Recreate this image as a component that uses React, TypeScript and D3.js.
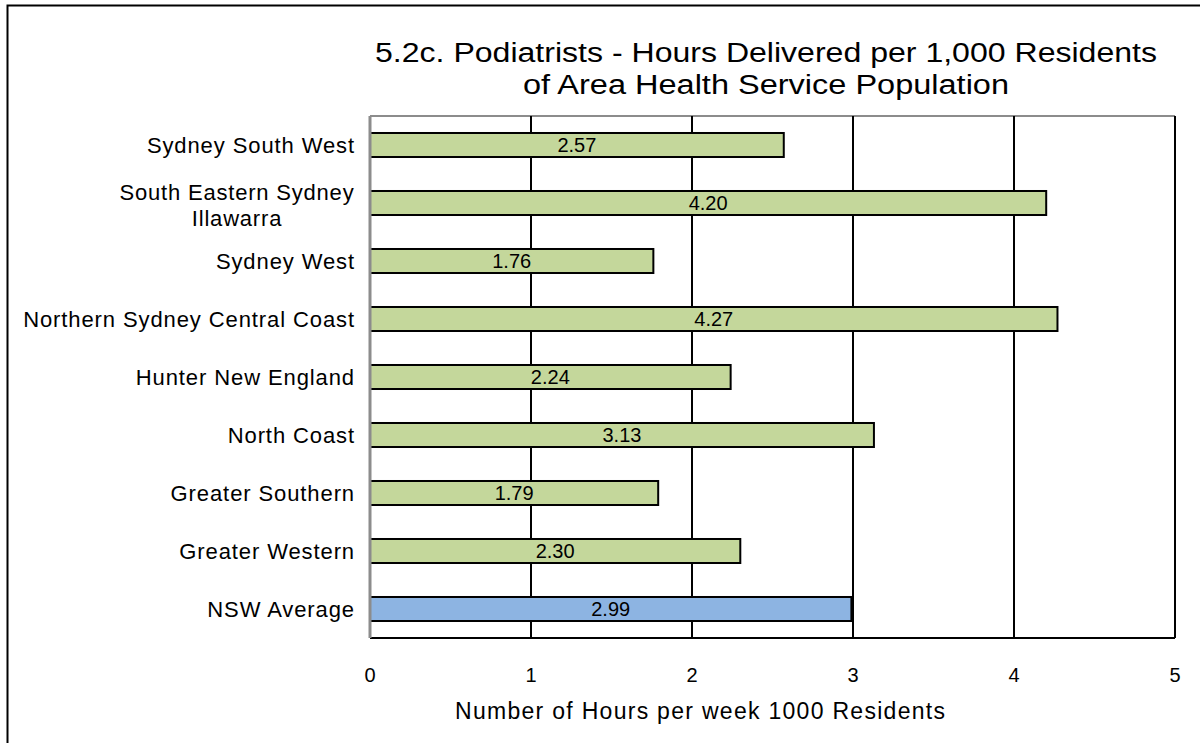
import React from "react";
import * as d3 from "d3";

const categories: string[] = [
  "Sydney South West",
  "South Eastern Sydney Illawarra",
  "Sydney West",
  "Northern Sydney Central Coast",
  "Hunter New England",
  "North Coast",
  "Greater Southern",
  "Greater Western",
  "NSW Average",
];
const categoryLines: string[][] = [
  ["Sydney South West"],
  ["South Eastern Sydney", "Illawarra"],
  ["Sydney West"],
  ["Northern Sydney Central Coast"],
  ["Hunter New England"],
  ["North Coast"],
  ["Greater Southern"],
  ["Greater Western"],
  ["NSW Average"],
];
const values: number[] = [2.57, 4.2, 1.76, 4.27, 2.24, 3.13, 1.79, 2.3, 2.99];
const xTicks: number[] = [0, 1, 2, 3, 4, 5];
const titleLines: string[] = [
  "5.2c. Podiatrists - Hours Delivered per 1,000 Residents",
  "of  Area Health Service Population",
];
const xAxisTitle = "Number of Hours per week 1000 Residents";

const W = 1200;
const H = 743;
const FONT = "'Liberation Sans', Arial, sans-serif";

export default function App() {
  const left = 370;
  const right = 1175;
  const top = 116;
  const bottom = 638;

  const x = d3.scaleLinear().domain([0, 5]).range([left, right]);
  const y = d3
    .scaleBand<string>()
    .domain(categories)
    .range([top, bottom])
    .paddingInner(0.586)
    .paddingOuter(0.293);

  return (
    <svg
      width={W}
      height={H}
      style={{ position: "absolute", left: 0, top: 0, background: "#fff" }}
      fontFamily={FONT}
    >
      <rect x={0} y={0} width={W} height={H} fill="#fff" />
      {/* outer frame */}
      <rect x={7.5} y={5.5} width={1230} height={800} fill="none" stroke="#000" strokeWidth={2} />

      {/* title */}
      {titleLines.map((t, i) => (
        <text
          key={i}
          x={766}
          y={62 + i * 32}
          textAnchor="middle"
          fontSize={27}
          fill="#000"
          textLength={i === 0 ? 782 : 486}
          lengthAdjust="spacingAndGlyphs"
        >
          {t}
        </text>
      ))}

      {/* plot top border */}
      <line x1={left} x2={right} y1={top} y2={top} stroke="#8c8c8c" strokeWidth={2} />

      {/* vertical gridlines */}
      {xTicks
        .filter((t) => t > 0)
        .map((t) => (
          <line key={t} x1={x(t)} x2={x(t)} y1={top} y2={bottom} stroke="#000" strokeWidth={2} />
        ))}

      {/* bars */}
      {categories.map((c, i) => (
        <rect
          key={c}
          x={x(0)}
          y={y(c)!}
          width={x(values[i]) - x(0)}
          height={y.bandwidth()}
          fill={c === "NSW Average" ? "#8DB4E2" : "#C4D79B"}
          stroke="#000"
          strokeWidth={2}
        />
      ))}

      {/* value labels */}
      {categories.map((c, i) => (
        <text
          key={c}
          x={(x(0) + x(values[i])) / 2}
          y={y(c)! + y.bandwidth() / 2}
          dy="0.36em"
          textAnchor="middle"
          fontSize={20}
          fill="#000"
        >
          {values[i].toFixed(2)}
        </text>
      ))}

      {/* axes */}
      <line x1={left} x2={right} y1={bottom} y2={bottom} stroke="#000" strokeWidth={2} />
      <line x1={left} x2={left} y1={top} y2={bottom} stroke="#8c8c8c" strokeWidth={3} />

      {/* category labels */}
      {categories.map((c, i) => {
        const lines = categoryLines[i];
        const cy = y(c)! + y.bandwidth() / 2;
        const lh = 26;
        if (lines.length === 1) {
          return (
            <text key={c} x={355} y={cy} dy="0.36em" textAnchor="end" fontSize={22} letterSpacing={0.9} fill="#000">
              {lines[0]}
            </text>
          );
        }
        const widest = 236;
        return (
          <text key={c} x={355 - widest / 2} textAnchor="middle" fontSize={22} letterSpacing={0.8} fill="#000">
            {lines.map((l, j) => (
              <tspan key={j} x={355 - widest / 2} y={cy - ((lines.length - 1) * lh) / 2 + j * lh + 2} dy="0.36em">
                {l}
              </tspan>
            ))}
          </text>
        );
      })}

      {/* x tick labels */}
      {xTicks.map((t) => (
        <text key={t} x={x(t)} y={682} textAnchor="middle" fontSize={20} fill="#000">
          {t}
        </text>
      ))}

      {/* x axis title */}
      <text
        x={700}
        y={719}
        textAnchor="middle"
        fontSize={23}
        fill="#000"
        textLength={490}
        lengthAdjust="spacing"
      >
        {xAxisTitle}
      </text>
    </svg>
  );
}
